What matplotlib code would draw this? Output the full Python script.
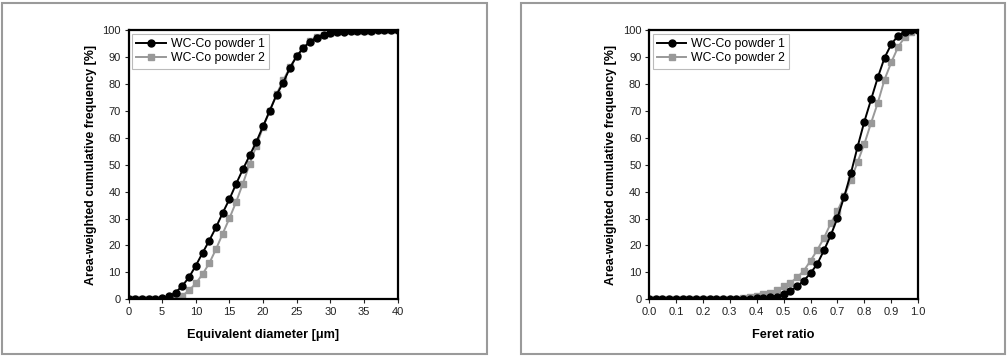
import matplotlib
matplotlib.use("Agg")
import matplotlib.pyplot as plt
from matplotlib.patches import Rectangle
import numpy as np

plt.rcParams['font.family'] = ['Liberation Sans', 'DejaVu Sans']

# ---- Data: left panel (equivalent diameter) ----
diam = list(range(0, 41))
diam_p1 = [0, 0, 0, 0, 0.1, 0.3, 1.1, 2.5, 5.0, 8.2, 12.5, 17.2, 21.8, 26.7, 32.1, 37.2,
           42.9, 48.3, 53.4, 58.5, 64.3, 70.1, 75.9, 80.5, 86.0, 90.3, 93.4, 95.7, 97.2,
           98.2, 98.8, 99.2, 99.4, 99.6, 99.7, 99.8, 99.8, 99.9, 99.9, 100, 100]
diam_p2 = [0, 0, 0, 0, 0, 0, 0, 0.5, 1.3, 3.3, 5.9, 9.3, 13.4, 18.6, 24.4, 30.1,
           36.2, 43.0, 50.2, 57.0, 64.0, 70.0, 76.2, 81.4, 86.2, 90.4, 93.5, 95.8, 97.3,
           98.3, 98.9, 99.3, 99.5, 99.6, 99.7, 99.8, 99.8, 99.9, 99.9, 100, 100]

# ---- Data: right panel (Feret ratio) ----
feret = [round(0.025 * i, 3) for i in range(41)]
feret_p1 = [0, 0, 0, 0, 0, 0, 0, 0, 0, 0, 0, 0, 0, 0, 0.05, 0.1,
            0.3, 0.5, 0.7, 1.0, 1.9, 3.0, 4.8, 6.9, 9.7, 13.1, 18.2, 23.7, 30.2, 38.1,
            46.8, 56.7, 66.0, 74.2, 82.4, 89.7, 94.7, 97.9, 99.3, 99.9, 100]
feret_p2 = [0, 0, 0, 0, 0, 0, 0, 0, 0, 0, 0, 0, 0.1, 0.2, 0.4, 0.7,
            1.2, 1.8, 2.5, 3.4, 4.8, 6.1, 8.1, 10.6, 14.3, 18.3, 22.8, 28.2, 32.8, 38.3,
            44.3, 51.0, 57.7, 65.5, 73.0, 81.6, 88.0, 93.6, 97.4, 99.4, 100]

series_labels = ["WC-Co powder 1", "WC-Co powder 2"]
xlabels = ["Equivalent diameter [\u03bcm]", "Feret ratio"]
ylabel = "Area-weighted cumulative frequency [%]"

W, H = 1007, 362
fig = plt.figure(figsize=(W / 100, H / 100), dpi=100)

# panel frames
for (x0, x1) in [(2, 487), (521, 1005)]:
    fig.patches.append(Rectangle((x0 / W, 1 - 354 / H), (x1 - x0) / W, (354 - 3) / H,
                                 transform=fig.transFigure, fill=False,
                                 edgecolor='#9a9a9a', linewidth=1.5))

def make_axes(left_px, xdata, y1, y2, xlim, xticks, xticklabels, xlabel):
    ax = fig.add_axes([left_px / W, 1 - 299.3 / H, 269.2 / W, 269.3 / H])
    ax.plot(xdata, y2, color='#999999', marker='s', markersize=4.4, linewidth=1.4,
            label=series_labels[1], zorder=2)
    ax.plot(xdata, y1, color='black', marker='o', markersize=5.0, linewidth=1.4,
            label=series_labels[0], zorder=3)
    ax.set_xlim(*xlim)
    ax.set_ylim(0, 100)
    ax.set_xticks(xticks)
    ax.set_xticklabels(xticklabels)
    ax.set_yticks(range(0, 101, 10))
    for s in ax.spines.values():
        s.set_linewidth(1.6)
    ax.tick_params(direction='out', length=3, width=0.8, labelsize=8, pad=2.5,
                   colors='#222222')
    ax.set_xlabel(xlabel, fontsize=9.2, fontweight='bold', labelpad=9)
    ax.set_ylabel(ylabel, fontsize=8.9, fontweight='bold', labelpad=4)
    handles, labels = ax.get_legend_handles_labels()
    leg = ax.legend(handles[::-1], labels[::-1], loc='upper left', fontsize=8.8,
                    frameon=True, fancybox=False, edgecolor='#aaaaaa',
                    borderaxespad=0.3, handlelength=2.4, handletextpad=0.4,
                    borderpad=0.35, labelspacing=0.2)
    leg.get_frame().set_linewidth(0.8)
    return ax

make_axes(128.5, diam, diam_p1, diam_p2, (0, 40), list(range(0, 41, 5)),
          [str(v) for v in range(0, 41, 5)], xlabels[0])
ft = [round(0.1 * i, 1) for i in range(11)]
make_axes(649, feret, feret_p1, feret_p2, (0, 1), ft,
          ["%.1f" % v for v in ft], xlabels[1])

fig.savefig("out.png", dpi=100)
